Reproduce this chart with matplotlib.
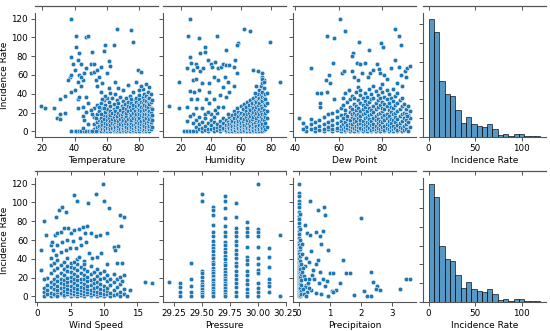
import numpy as np
import matplotlib
matplotlib.use("Agg")
import matplotlib.pyplot as plt

BLUE = "#1f77b4"

# ---- Temperature vs Incidence Rate ----
temp_sparse_x = [19, 22, 27, 29, 31, 31, 31, 34, 34, 38, 38, 39, 40, 41, 41, 42, 43, 44, 42, 38, 40,
                 42, 43, 44, 45, 47, 47, 48, 37, 36, 38, 43, 44, 46, 42, 45, 45, 46, 47, 48, 47,
                 50, 50, 51, 52, 52, 53, 54, 54, 55, 56, 57, 58, 59, 60, 61, 62, 61, 64, 66, 65,
                 67, 62, 59, 56, 57, 55, 52, 50, 51, 53, 56, 58, 75, 76, 78, 79, 81, 73, 80, 81,
                 38, 40, 41, 43, 44, 46, 47, 49, 50, 51, 53, 48, 45]
temp_sparse_y = [27, 25, 25, 14, 13, 18, 34, 38, 20, 120, 79, 72, 65, 102, 90, 76, 83, 72, 53, 42, 44,
                 34, 37, 48, 55, 67, 100, 102, 58, 55, 60, 60, 58, 62, 25, 26, 16, 12, 21, 30, 37,
                 62, 72, 85, 72, 63, 55, 65, 48, 58, 69, 51, 86, 92, 62, 75, 70, 46, 92, 109, 53,
                 46, 41, 38, 42, 34, 26, 25, 23, 18, 14, 18, 25, 108, 95, 53, 65, 63, 49, 44, 48,
                 0, 0, 0, 0, 0, 0, 0, 0, 0, 0, 0, 8, 4]
temp_cols = [
    (52, [0, 3, 8, 15]), (54, [0, 2, 5, 10, 18, 28]), (55, [1, 6, 12, 22]),
    (56, [0, 4, 9, 14, 30]), (57, [2, 7, 11, 19, 25]), (58, [0, 3, 5, 13, 17, 33]),
    (59, [1, 6, 9, 21, 28]), (60, [0, 2, 4, 8, 12, 16, 24, 36]), (61, [1, 5, 10, 14, 19, 31]),
    (62, [0, 3, 7, 11, 17, 22, 27]), (63, [2, 4, 9, 13, 20, 35]), (64, [0, 1, 6, 8, 15, 24, 29]),
    (65, [3, 5, 10, 12, 18, 22, 40]), (66, [0, 2, 7, 14, 16, 26, 33]), (67, [1, 4, 6, 9, 11, 20, 30]),
    (68, [0, 3, 8, 13, 17, 23, 37]), (69, [2, 5, 10, 15, 19, 27]), (70, [0, 1, 4, 7, 12, 21, 25, 32, 44]),
    (71, [3, 6, 9, 14, 18, 29]), (72, [0, 2, 5, 11, 16, 20, 24, 35]), (73, [1, 4, 8, 13, 22, 27, 31]),
    (74, [0, 3, 6, 10, 15, 19, 26, 38]), (75, [2, 5, 9, 12, 17, 23, 30, 34]),
    (76, [0, 1, 4, 7, 14, 20, 25, 28, 42]), (77, [3, 6, 8, 11, 16, 22, 33]),
    (78, [0, 2, 5, 10, 13, 18, 27, 31, 36]), (79, [1, 4, 7, 12, 15, 21, 24, 29]),
    (80, [0, 3, 6, 9, 14, 19, 23, 28, 34, 39]), (81, [2, 5, 8, 11, 17, 22, 26, 31]),
    (82, [0, 1, 4, 7, 13, 16, 20, 25, 30, 37, 45]), (83, [3, 6, 10, 12, 18, 23, 28, 33, 40]),
    (84, [0, 2, 5, 9, 14, 19, 24, 27, 32, 38, 50]), (85, [1, 4, 8, 11, 16, 21, 26, 30, 35, 42]),
    (86, [0, 3, 6, 13, 18, 22, 29, 36, 47]), (87, [2, 7, 10, 15, 20, 25, 31, 40]),
    (88, [5, 12, 17, 24, 33]),
]

# ---- Humidity vs Incidence Rate ----
hum_sparse_x = [26, 25, 32, 44, 62, 66, 79, 58, 57, 50, 36, 36, 33, 26, 24, 27, 30, 31, 28, 28, 30,
                33, 35, 38, 40, 41, 43, 45, 47, 48, 50, 52, 56, 55, 57, 19, 12, 19, 24, 26, 27, 29,
                31, 32, 34, 39, 39, 42, 45, 48, 49, 51, 52, 55, 50, 46, 42, 39, 37, 34, 30, 28, 26,
                24, 28, 32, 36, 38, 43, 45, 48, 51, 68, 71, 74, 70, 74, 75, 77, 86, 69,
                22, 24, 26, 28]
hum_sparse_y = [120, 102, 99, 102, 109, 107, 95, 94, 92, 87, 90, 85, 83, 79, 67, 73, 72, 69, 65, 55, 56,
                64, 67, 76, 72, 69, 74, 67, 69, 72, 71, 71, 76, 69, 62, 53, 27, 25, 26, 43, 34, 42,
                34, 44, 51, 42, 51, 58, 55, 47, 58, 53, 42, 48, 37, 39, 34, 30, 34, 25, 25, 19, 16,
                11, 9, 15, 18, 21, 23, 26, 26, 19, 65, 64, 62, 48, 56, 53, 41, 53, 41,
                0, 0, 0, 0]
hum_cols = [
    (30, [0, 5, 12]), (32, [2, 8]), (34, [0, 4, 10]), (36, [1, 6, 14]), (38, [0, 3, 9]),
    (40, [2, 7, 12, 18]), (42, [0, 4, 10, 15]), (44, [1, 5, 8, 20]), (46, [0, 3, 6, 11]),
    (48, [2, 4, 9, 14]), (50, [0, 1, 5, 7, 12]), (51, [3, 6, 10]), (52, [0, 2, 4, 8, 15]),
    (53, [1, 5, 9, 12]), (54, [0, 3, 6, 11, 17]), (55, [2, 4, 8, 14, 22]),
    (56, [0, 1, 5, 7, 10, 19]), (57, [3, 6, 9, 13, 25]), (58, [0, 2, 4, 8, 11, 16, 21]),
    (59, [1, 5, 7, 12, 18]), (60, [0, 3, 6, 9, 14, 20, 27]), (61, [2, 4, 8, 11, 17, 24]),
    (62, [0, 1, 5, 7, 13, 19, 29]), (63, [3, 6, 10, 15, 22, 26]), (64, [0, 2, 4, 9, 12, 18, 31]),
    (65, [1, 5, 8, 14, 20, 24, 28]), (66, [0, 3, 6, 11, 16, 23, 33]), (67, [2, 4, 9, 13, 19, 27, 30]),
    (68, [0, 1, 5, 8, 15, 21, 25, 35]), (69, [3, 7, 10, 17, 23, 29, 32]),
    (70, [0, 2, 6, 12, 14, 20, 26, 31, 38]), (71, [1, 4, 9, 16, 22, 28, 34, 40]),
    (72, [0, 3, 7, 11, 18, 24, 30, 36, 44]), (73, [2, 5, 10, 15, 21, 27, 33, 39, 48]),
    (74, [0, 4, 8, 13, 19, 25, 32, 37, 42, 52, 58]), (75, [1, 6, 12, 17, 23, 29, 35, 46, 55]),
    (76, [3, 9, 15, 20, 28, 34, 40]), (77, [5, 14, 22, 30]),
]

# ---- Dew Point vs Incidence Rate ----
dew_sparse_x = [60.5, 54.6, 58, 63, 69.5, 74, 79.5, 80.5, 86, 87.7, 88.8, 66.6, 66, 47, 57.4, 61.5,
                62.6, 66, 68.5, 70, 72.3, 67, 68.8, 70.8, 73.4, 74.6, 76, 77.4, 78.5, 79.2, 80.8, 82,
                84, 85.7, 87.7, 88.5, 90.3, 91.5, 92.6, 90.8, 89, 87, 55.4, 54.3, 55.8, 50, 51.8,
                54.6, 51.5, 51.5, 57.7, 62, 63, 64.6, 41.5, 43.5, 43.5, 47, 92, 93, 90.8, 91.5]
dew_sparse_y = [120, 102, 99, 107, 95, 87, 94, 90, 109, 102, 92, 83, 80, 67, 73, 62,
                64, 64, 73, 72, 73, 58, 55, 62, 58, 62, 65, 72, 66, 62, 60, 56,
                67, 76, 69, 60, 64, 67, 70, 58, 48, 51, 60, 55, 52, 41, 41,
                42, 30, 26, 34, 35, 41, 44, 14, 9, 2, 13, 27, 22, 19, 16]
dew_cols = [
    (45, [0, 5]), (47, [2, 8]), (49, [0, 4, 10]), (51, [1, 6, 12]), (53, [0, 3, 8, 15]),
    (55, [2, 5, 10, 18]), (57, [0, 3, 7, 12, 20]), (59, [1, 4, 9, 15, 22]),
    (61, [0, 2, 6, 11, 17, 25]), (62, [3, 8, 14, 28]), (63, [0, 1, 5, 10, 19, 23]),
    (64, [2, 4, 7, 13, 16, 31]), (65, [0, 3, 6, 9, 12, 21, 26, 34]), (66, [1, 5, 8, 15, 18, 24, 38]),
    (67, [0, 2, 4, 10, 13, 20, 29, 36]), (68, [3, 6, 11, 17, 23, 27, 42]),
    (69, [0, 1, 5, 8, 14, 19, 25, 33, 47]), (70, [2, 4, 9, 12, 16, 22, 30, 39, 44]),
    (71, [0, 3, 7, 11, 18, 24, 28, 35]), (72, [1, 5, 8, 14, 20, 26, 32, 41]),
    (73, [0, 2, 6, 10, 15, 22, 29, 37]), (74, [3, 4, 9, 13, 17, 25, 31, 45]),
    (75, [0, 1, 7, 11, 19, 23, 34, 40]), (76, [2, 5, 8, 14, 21, 27, 36, 48]),
    (77, [0, 3, 6, 12, 16, 24, 30, 43]), (78, [1, 4, 9, 13, 18, 26, 33, 39]),
    (79, [0, 2, 7, 11, 20, 28, 35, 46]), (80, [3, 5, 10, 15, 22, 25, 31, 42, 50]),
    (81, [0, 1, 6, 12, 17, 24, 29, 37]), (82, [2, 4, 8, 14, 19, 27, 34, 44]),
    (83, [0, 3, 7, 11, 16, 23, 30, 40]), (84, [1, 5, 9, 13, 21, 26, 36]),
    (85, [0, 2, 6, 12, 18, 25, 32, 45]), (86, [3, 4, 10, 15, 20, 28, 38]),
    (87, [0, 1, 7, 13, 22, 30, 41]), (88, [2, 5, 9, 16, 24, 33]), (89, [0, 4, 11, 18, 27, 36]),
    (90, [1, 6, 14, 20, 29]), (91, [3, 8, 12, 24]), (92, [0, 10, 17]), (93, [5, 14]),
]

# ---- Wind Speed vs Incidence Rate ----
wind_sparse_x = [9.9, 6, 5.5, 8.75, 10.1, 10.75, 3.25, 3.75, 4.25, 2.75, 1, 7.6, 12.4, 13, 12.6, 1.35,
                 0.5, 0.5, 1, 2.1, 2.25, 2.6, 3, 3.5, 4, 4.6, 5, 5.5, 6.25, 6.9, 7.4, 7.1, 6.4, 5.4,
                 4.5, 3.75, 3, 2.4, 2.1, 2.75, 3.5, 4.25, 4.9, 5.75, 6.5, 7.25, 8, 8.75, 9.4, 10.5,
                 11.6, 12.1, 11.75, 7.75, 8.25, 9, 9.6, 10.5, 12, 12.75, 13, 12.75, 14, 13.5, 6.25,
                 5.5, 7, 16.2, 17.3]
wind_sparse_y = [120, 102, 108, 109, 102, 94, 92, 95, 90, 84, 80, 99, 87, 84, 75, 65,
                 49, 28, 18, 55, 58, 65, 67, 69, 73, 73, 67, 71, 72, 74, 75, 67, 62, 59,
                 60, 58, 55, 49, 41, 44, 47, 49, 51, 52, 55, 58, 67, 64, 65, 67,
                 53, 54, 49, 46, 41, 42, 46, 34, 35, 35, 23, 16, 7, 0, 42,
                 37, 34, 15, 14]
wind_cols = [
    (1.0, [0, 5, 9]), (1.5, [2, 7, 12, 20]), (2.0, [0, 4, 10, 15, 25, 33]),
    (2.5, [1, 3, 8, 13, 18, 28, 36]), (3.0, [0, 5, 7, 11, 16, 22, 30, 39]),
    (3.5, [2, 4, 9, 14, 19, 25, 33]), (4.0, [0, 1, 6, 10, 13, 17, 23, 29, 37]),
    (4.5, [3, 5, 8, 12, 15, 20, 27, 32, 41]), (5.0, [0, 2, 4, 7, 11, 16, 21, 26, 31, 36]),
    (5.5, [1, 3, 6, 9, 14, 18, 24, 30]), (6.0, [0, 2, 5, 8, 12, 17, 22, 28, 34, 40]),
    (6.5, [1, 4, 7, 10, 15, 19, 25, 31]), (7.0, [0, 3, 6, 9, 13, 18, 23, 29, 38]),
    (7.5, [2, 5, 8, 11, 16, 21, 27]), (8.0, [0, 1, 4, 7, 12, 17, 24, 32]),
    (8.5, [3, 6, 9, 14, 19, 26]), (9.0, [0, 2, 5, 10, 15, 22, 29]), (9.5, [1, 4, 8, 13, 18, 25]),
    (10.0, [0, 3, 7, 11, 20, 27]), (10.5, [2, 6, 9, 16, 23]), (11.0, [0, 4, 12, 19]),
    (11.5, [1, 7, 15, 24]), (12.0, [3, 10, 18]), (12.5, [0, 5, 13, 21]), (13.0, [2, 8]),
]

# ---- Pressure vs Incidence Rate (readings per pressure level) ----
pres_cols = [
    (29.2, [15]),
    (29.3, [14, 9.5, 5, 0]),
    (29.4, [35, 19, 10.6, 5, 0]),
    (29.5, [109, 102, 27, 25, 21, 16, 13, 10.6, 8, 5, 2, 0]),
    (29.6, [95, 92, 87, 76, 69, 64, 59, 55, 51, 48, 44, 41, 37, 34, 30, 27, 25, 22, 19, 17,
            14, 12, 9, 6, 3.5, 0]),
    (29.7, [107, 102, 94, 83, 75, 69, 64, 58, 55, 50, 47, 43, 40, 36, 33, 29, 26, 23, 20, 17,
            14, 12, 9, 6, 3, 0]),
    (29.8, [99, 84, 73, 69, 64, 59, 55, 49, 45, 41, 36, 32, 27, 23, 19, 14, 10, 5, 0]),
    (29.9, [79, 73, 69, 64, 53, 42, 39, 34, 27, 23, 17, 13, 8, 3.5, 0]),
    (30.0, [120, 72, 69, 64, 53, 41, 34, 28, 25, 14, 9, 5, 0]),
    (30.1, [51, 42, 31, 18, 14, 11, 5]),
    (30.2, [65, 0]),
]

# ---- Precipitation vs Incidence Rate ----
prec_sparse_x = [0.37, 0.62, 0.82, 0.84, 2.0, 0.22, 0.26, 0.37, 0.55, 0.68, 0.79, 0.73, 0.11, 0.4,
                 0.95, 0.24, 0.33, 0.55, 0.62, 1.42, 0.22, 0.46, 0.68, 1.0, 1.12, 1.53, 1.64, 2.32,
                 2.38, 2.54, 2.48, 2.63, 3.25, 3.47, 3.6, 1.34, 1.2, 1.06, 1.12, 1.8, 2.1, 2.2,
                 2.34, 0.9, 0.79, 0.84, 0.66, 0.51, 0.44, 0.33, 0.24, 0.4, 0.57, 0.73, 0.95,
                 0.12, 0.15, 0.18, 0.2, 0.28, 0.3, 0.14, 0.16, 0.1, 0.25, 0.22, 0.35]
prec_sparse_y = [102, 92, 95, 87, 83, 76, 67, 65, 69, 64, 70, 56, 56, 48,
                 49, 41, 37, 34, 39, 39, 32, 28, 26, 25, 25, 25, 25, 26,
                 15, 11, 8, 7, 8, 19, 19, 14, 7, 6, 5, 1, 6, 0,
                 0, 16, 19, 11, 14, 18, 23, 19, 12, 7, 4, 2, 0,
                 45, 30, 22, 10, 5, 14, 8, 3, 26, 0, 18, 9]
prec_cols = [
    (0.0, [120, 110, 107, 102, 98, 95, 90, 86, 82, 78, 74, 70, 66, 62, 58, 55, 52, 48, 45, 42,
           40, 37, 35, 32, 30, 28, 26, 24, 22, 20, 18, 16, 14, 12, 10, 8, 6, 4, 2, 0]),
    (0.03, [88, 72, 60, 50, 43, 36, 31, 27, 23, 19, 15, 11, 7, 3, 0]),
    (0.06, [53, 38, 29, 21, 13, 9, 5, 1]),
    (0.09, [34, 24, 17, 12, 6, 2]),
]

# ---- Incidence Rate histogram (counts per bin, 0-120) ----
hist_counts = [157, 140, 74, 57, 54, 36, 18, 27, 17, 14, 13, 17, 10, 2, 4, 1, 4, 4, 1, 1, 1]


def flatten(cols, sx=(), sy=()):
    xs = [x for x, ys in cols for _ in ys] + list(sx)
    ys = [y for _, col in cols for y in col] + list(sy)
    return xs, ys


plt.rcParams["font.family"] = "DejaVu Sans"
plt.rcParams["font.size"] = 6

fig = plt.figure(figsize=(5.5, 3.31), dpi=100)

W, H = 550, 331
lefts = [35, 163, 293, 423]
rows = [(13, 137), (178, 302)]
top_gap = 7  # px between axes top and the cut-off axis of the row above
aw = 123
GREY = "#555555"


def add_ax(col, row):
    top, bot = rows[row]
    return fig.add_axes([lefts[col] / W, 1 - bot / H, aw / W, (bot - top) / H])


def style(ax):
    for s in ("top", "right"):
        ax.spines[s].set_visible(False)
    for s in ("left", "bottom"):
        ax.spines[s].set_linewidth(0.8)
        ax.spines[s].set_color(GREY)
    ax.tick_params(length=3, width=0.7, color=GREY, pad=2, labelsize=6.3)


def top_line(row, ax, ticks):
    # cut-off x axis of the panel row above, drawn just over this panel
    top, bot = rows[row]
    sec = ax.secondary_xaxis(1 + top_gap / (bot - top))
    sec.set_xticks(ticks)
    sec.set_xticklabels([])
    sec.tick_params(direction="in", length=3, width=0.7, color=GREY)
    sec.spines["top"].set_color(GREY)
    sec.spines["top"].set_linewidth(0.9)


scatter_panels = [
    (0, 0, flatten(temp_cols, temp_sparse_x, temp_sparse_y), "Temperature", [20, 40, 60, 80], None),
    (1, 0, flatten(hum_cols, hum_sparse_x, hum_sparse_y), "Humidity", [20, 40, 60, 80], None),
    (2, 0, flatten(dew_cols, dew_sparse_x, dew_sparse_y), "Dew Point", [40, 60, 80], None),
    (0, 1, flatten(wind_cols, wind_sparse_x, wind_sparse_y), "Wind Speed", [0, 5, 10, 15], None),
    (1, 1, flatten(pres_cols), "Pressure", [29.25, 29.5, 29.75, 30.0, 30.25],
     ["29.25", "29.50", "29.75", "30.00", "30.25"]),
    (2, 1, flatten(prec_cols, prec_sparse_x, prec_sparse_y), "Precipitaion", [0, 1, 2, 3], None),
]

for col, row, (xs, ys), label, ticks, ticklabels in scatter_panels:
    ax = add_ax(col, row)
    ax.scatter(xs, ys, s=11, color=BLUE, edgecolors="white", linewidths=0.35, zorder=3)
    ax.margins(0.05)
    ax.set_ylim(-6, 126)
    ax.set_yticks([0, 20, 40, 60, 80, 100, 120])
    ax.set_xticks(ticks)
    ax.set_xlim(ax.get_xlim())
    if ticklabels:
        ax.set_xticklabels(ticklabels)
    ax.set_xlabel(label, labelpad=2, fontsize=6.5)
    if col == 0:
        ax.set_ylabel("Incidence Rate", labelpad=2, fontsize=6.5)
    else:
        ax.set_yticklabels([])
    style(ax)
    top_line(row, ax, ticks)

edges = np.linspace(0, 120, len(hist_counts) + 1)
for row in (0, 1):
    ax = add_ax(3, row)
    ax.hist(edges[:-1], bins=edges, weights=hist_counts, color=BLUE, alpha=0.75,
            edgecolor="black", linewidth=0.6)
    ax.set_xlim(-6, 126)
    ax.set_ylim(0, 165)
    ax.set_yticks([0, 25, 50, 75, 100, 125, 150])
    ax.set_yticklabels([])
    ax.set_xticks([0, 50, 100])
    ax.set_xlabel("Incidence Rate", labelpad=2, fontsize=6.5)
    style(ax)
    top_line(row, ax, [0, 50, 100])

fig.savefig("out.png", dpi=100)
